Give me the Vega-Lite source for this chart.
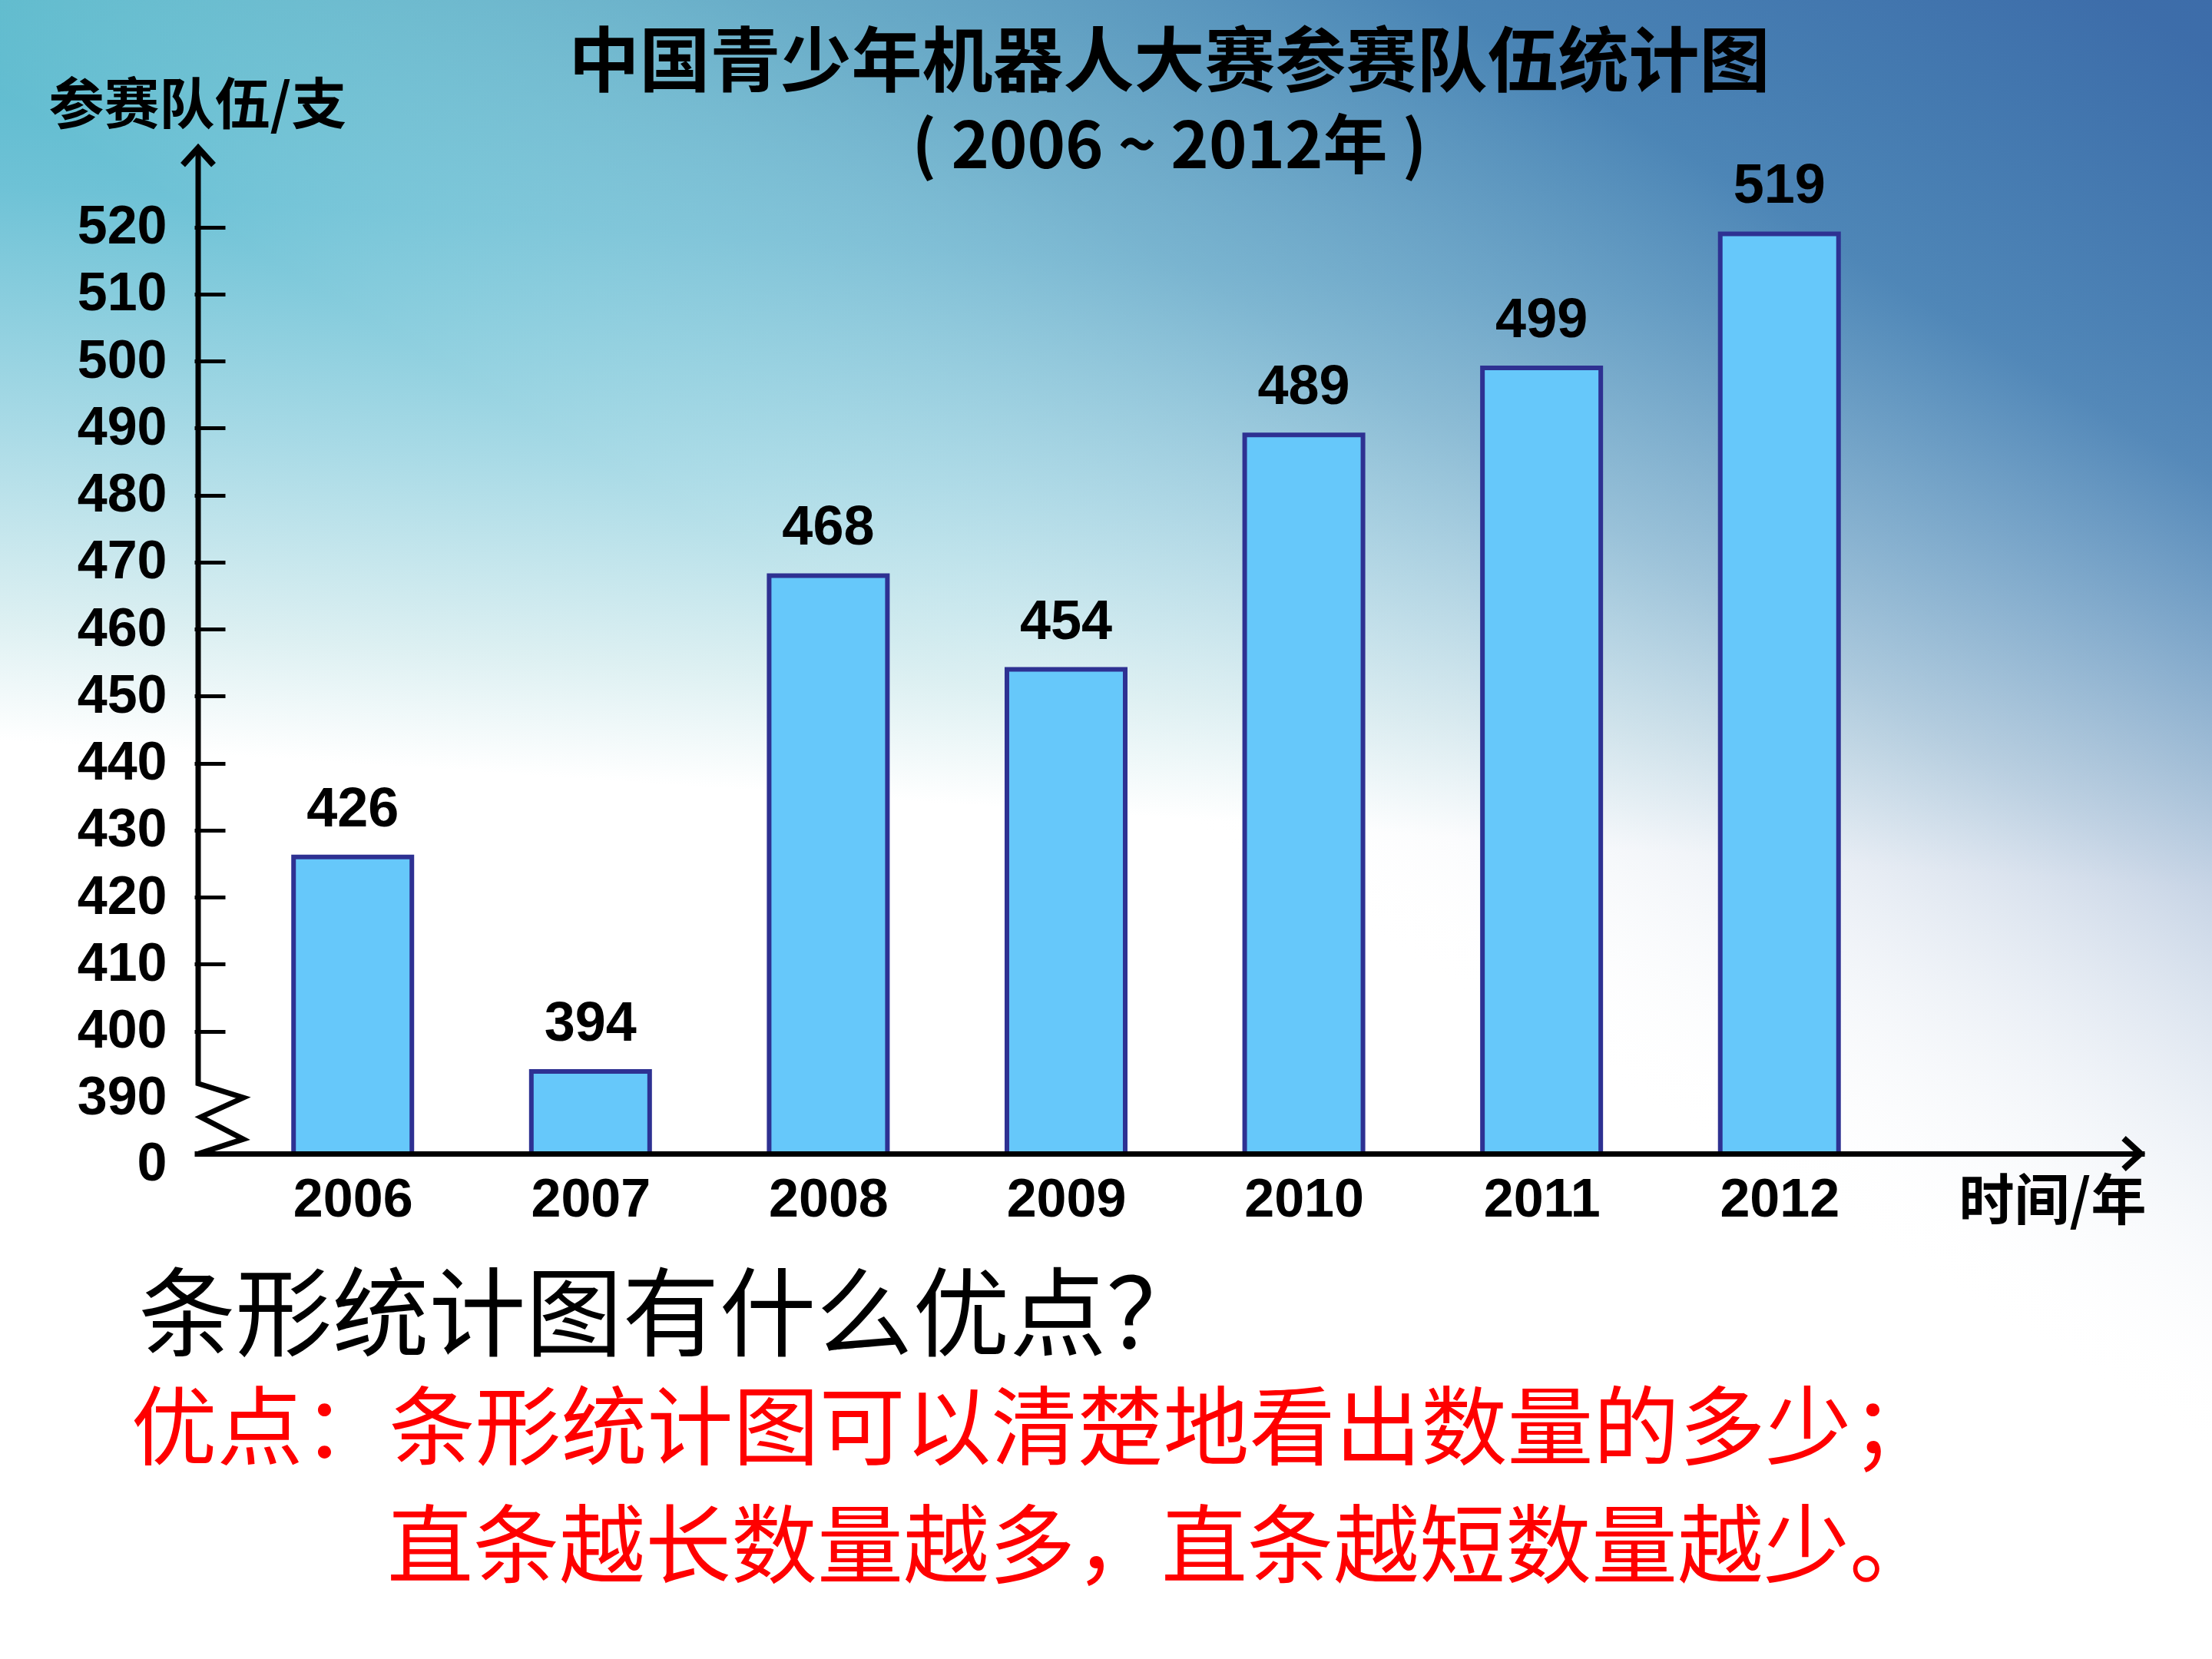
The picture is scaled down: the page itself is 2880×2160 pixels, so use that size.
{
  "$schema": "https://vega.github.io/schema/vega-lite/v6.json",
  "width": 2539,
  "height": 1311,
  "autosize": {"type": "none"},
  "padding": {"left": 253, "top": 191, "right": 88, "bottom": 658},
  "background": "white",
  "config": {"view": {"stroke": null}, "font": "Noto Sans CJK SC"},
  "title": {
    "text": "中国青少年机器人大赛参赛队伍统计图",
    "subtitle": "( 2006 ~ 2012年 )",
    "anchor": "middle",
    "font": "Noto Sans CJK SC",
    "fontSize": 92,
    "fontWeight": "bold",
    "color": "black",
    "subtitleFont": "Noto Sans CJK SC",
    "subtitleFontSize": 84,
    "subtitleFontWeight": "bold",
    "subtitleColor": "black",
    "subtitlePadding": 22,
    "offset": -247
  },
  "datasets": {
    "bars": [
      {"year": 2006, "teams": 426},
      {"year": 2007, "teams": 394},
      {"year": 2008, "teams": 468},
      {"year": 2009, "teams": 454},
      {"year": 2010, "teams": 489},
      {"year": 2011, "teams": 499},
      {"year": 2012, "teams": 519}
    ],
    "axisline": [
      {"yr": 2005.35, "n": 531.6, "step": 1},
      {"yr": 2005.35, "n": 392.2, "step": 2},
      {"yr": 2005.54, "n": 390.1, "step": 3},
      {"yr": 2005.361, "n": 387.2, "step": 4},
      {"yr": 2005.54, "n": 383.9, "step": 5},
      {"yr": 2005.352, "n": 381.74, "step": 6}
    ],
    "question": [{"note": "条形统计图有什么优点？"}],
    "answer1": [{"note": "优点：条形统计图可以清楚地看出数量的多少；"}],
    "answer2": [{"note": "直条越长数量越多，直条越短数量越少。"}]
  },
  "layer": [
    {
      "data": {"values": [{}]},
      "mark": {
        "type": "rect",
        "fill": {
          "gradient": "linear", "x1": 0.3, "y1": 0, "x2": 0.26, "y2": 0.46,
          "stops": [
            {"offset": 0, "color": "#50B5C8"},
            {"offset": 0.3, "color": "#6EC2D6"},
            {"offset": 0.6, "color": "#A8DAE6"},
            {"offset": 0.85, "color": "#DDF0F2"},
            {"offset": 1, "color": "#FFFFFF"}
          ]
        }
      },
      "encoding": {
        "x": {"datum": 2004.5}, "x2": {"datum": 2013.85},
        "y": {"datum": 555}, "y2": {"datum": 300}
      }
    },
    {
      "data": {"values": [{}]},
      "mark": {
        "type": "rect",
        "fill": {
          "gradient": "linear", "x1": 0.95, "y1": 0, "x2": 0.55, "y2": 0.5,
          "stops": [
            {"offset": 0, "color": "rgba(60,105,168,0.95)"},
            {"offset": 0.3, "color": "rgba(72,120,176,0.8)"},
            {"offset": 0.6, "color": "rgba(135,163,200,0.45)"},
            {"offset": 1, "color": "rgba(255,255,255,0)"}
          ]
        }
      },
      "encoding": {
        "x": {"datum": 2004.5}, "x2": {"datum": 2013.85},
        "y": {"datum": 555}, "y2": {"datum": 300}
      }
    },
    {
      "data": {"name": "bars"},
      "mark": {"type": "bar", "width": 154, "fill": "#66C8FA", "stroke": "#2E3192", "strokeWidth": 6},
      "encoding": {
        "x": {
          "field": "year", "type": "quantitative",
          "scale": {"domain": [2005.35, 2013.519], "nice": false, "zero": false},
          "axis": {
            "values": [2006, 2007, 2008, 2009, 2010, 2011, 2012],
            "format": "d",
            "grid": false,
            "domain": true,
            "domainColor": "black",
            "domainWidth": 7,
            "ticks": false,
            "labelPadding": 26,
            "labelFont": "Liberation Sans",
            "labelFontSize": 70,
            "labelFontWeight": "bold",
            "labelColor": "black",
            "title": "时间/年",
            "titleFont": "Noto Sans CJK SC",
            "titleFontSize": 72,
            "titleFontWeight": "bold",
            "titleColor": "black",
            "titleX": 2419,
            "titleY": 63,
            "titleAlign": "center",
            "titleBaseline": "middle",
            "zindex": 1
          }
        },
        "y": {
          "field": "teams", "type": "quantitative",
          "scale": {"domain": [381.74, 532], "nice": false, "zero": false},
          "axis": {
            "values": [381.74, 390, 400, 410, 420, 430, 440, 450, 460, 470, 480, 490, 500, 510, 520],
            "labelExpr": "datum.value < 385 ? '0' : datum.label",
            "grid": false,
            "domain": false,
            "offset": -40,
            "tickSize": 40,
            "tickWidth": 5,
            "tickColor": "black",
            "tickOpacity": {"condition": {"test": "datum.value < 395", "value": 0}, "value": 1},
            "labelPadding": 36,
            "labelOffset": {"condition": {"test": "datum.value < 385", "value": 13}, "value": 0},
            "labelFont": "Liberation Sans",
            "labelFontSize": 70,
            "labelFontWeight": "bold",
            "labelColor": "black",
            "title": "参赛队伍/支",
            "titleAngle": 0,
            "titleFont": "Noto Sans CJK SC",
            "titleFontSize": 72,
            "titleFontWeight": "bold",
            "titleColor": "black",
            "titleX": -36,
            "titleY": -53,
            "titleAlign": "center",
            "titleBaseline": "middle",
            "zindex": 1
          }
        },
        "y2": {"datum": 381.74}
      }
    },
    {
      "data": {"name": "bars"},
      "mark": {"type": "text", "font": "Liberation Sans", "fontSize": 72, "fontWeight": "bold", "color": "black", "align": "center", "baseline": "alphabetic", "dy": -40},
      "encoding": {
        "x": {"field": "year", "type": "quantitative"},
        "y": {"field": "teams", "type": "quantitative"},
        "text": {"field": "teams", "type": "quantitative"}
      }
    },
    {
      "data": {"name": "axisline"},
      "mark": {"type": "line", "color": "black", "strokeWidth": 7, "strokeJoin": "miter"},
      "encoding": {
        "x": {"field": "yr", "type": "quantitative"},
        "y": {"field": "n", "type": "quantitative"},
        "order": {"field": "step", "type": "quantitative"}
      }
    },
    {
      "data": {"values": [{}]},
      "mark": {"type": "point", "shape": "M-1,1.1L0,0L1,1.1", "filled": false, "stroke": "black", "strokeWidth": 8, "size": 1600, "opacity": 1},
      "encoding": {"x": {"datum": 2005.35}, "y": {"datum": 531.8}}
    },
    {
      "data": {"values": [{}]},
      "mark": {"type": "point", "shape": "M-1.1,-1L0,0L-1.1,1", "filled": false, "stroke": "black", "strokeWidth": 8, "size": 1600, "opacity": 1},
      "encoding": {"x": {"datum": 2013.519}, "y": {"datum": 381.74}}
    },
    {
      "data": {"name": "question"},
      "mark": {"type": "text", "font": "Noto Sans CJK SC", "fontSize": 126, "fontWeight": "normal", "color": "black", "align": "left", "baseline": "middle"},
      "encoding": {
        "x": {"datum": 2005.1},
        "y": {"datum": 357.0},
        "text": {"field": "note"}
      }
    },
    {
      "data": {"name": "answer1"},
      "mark": {"type": "text", "font": "Noto Sans CJK SC", "fontSize": 112, "fontWeight": "normal", "color": "#FF0000", "align": "left", "baseline": "middle"},
      "encoding": {
        "x": {"datum": 2005.067},
        "y": {"datum": 340.1},
        "text": {"field": "note"}
      }
    },
    {
      "data": {"name": "answer2"},
      "mark": {"type": "text", "font": "Noto Sans CJK SC", "fontSize": 112, "fontWeight": "normal", "color": "#FF0000", "align": "left", "baseline": "middle"},
      "encoding": {
        "x": {"datum": 2006.145},
        "y": {"datum": 322.5},
        "text": {"field": "note"}
      }
    }
  ]
}
